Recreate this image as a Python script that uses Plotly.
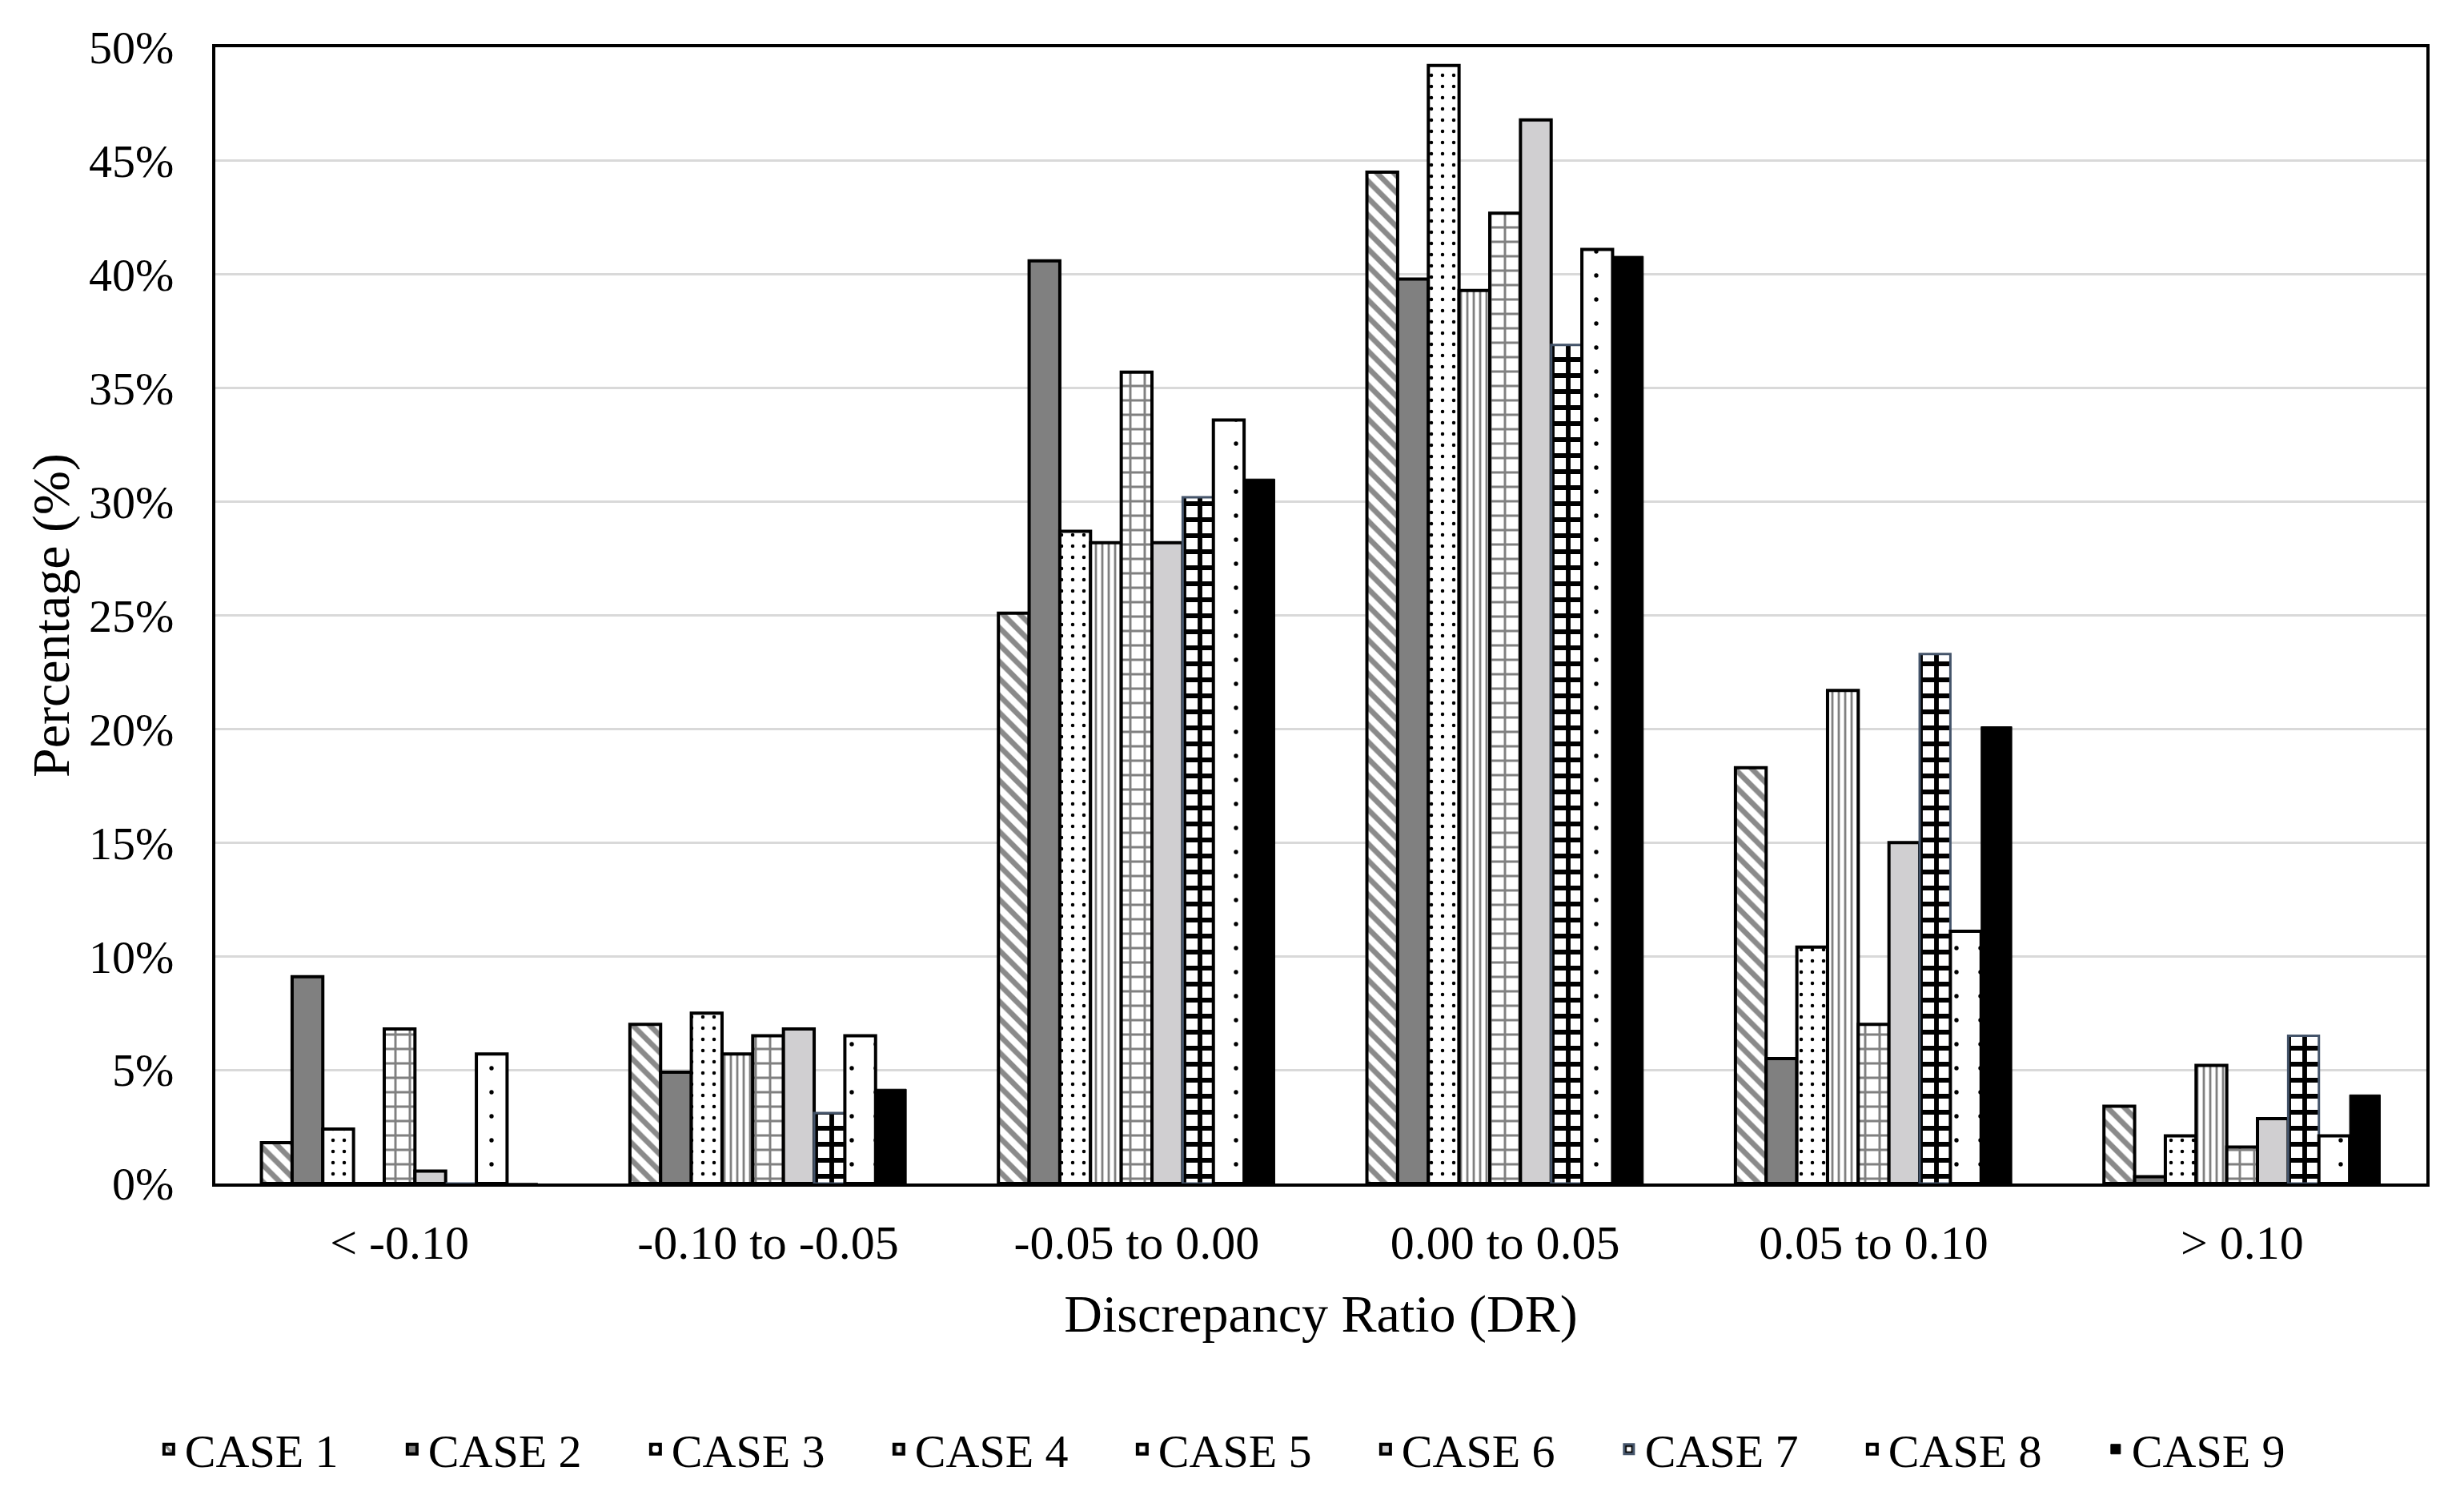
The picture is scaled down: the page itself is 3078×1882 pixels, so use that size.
import plotly.graph_objects as go

categories = ["< -0.10", "-0.10 to -0.05", "-0.05 to 0.00", "0.00 to 0.05", "0.05 to 0.10", "> 0.10"]
case_names = ["CASE 1", "CASE 2", "CASE 3", "CASE 4", "CASE 5", "CASE 6", "CASE 7", "CASE 8", "CASE 9"]

case1 = [1.8, 7.0, 25.1, 44.5, 18.3, 3.4]
case2 = [9.1, 4.9, 40.6, 39.8, 5.5, 0.3]
case3 = [2.4, 7.5, 28.7, 49.2, 10.4, 2.1]
case4 = [0.0, 5.7, 28.2, 39.3, 21.7, 5.2]
case5 = [6.8, 6.5, 35.7, 42.7, 7.0, 1.6]
case6 = [0.55, 6.8, 28.2, 46.8, 15.0, 2.85]
case7 = [0.0, 3.1, 30.2, 36.9, 23.3, 6.5]
case8 = [5.7, 6.5, 33.6, 41.1, 11.1, 2.1]
case9 = [0.0, 4.15, 31.0, 40.8, 20.1, 3.9]

y_tick_values = [0, 5, 10, 15, 20, 25, 30, 35, 40, 45, 50]
y_tick_labels = ["0%", "5%", "10%", "15%", "20%", "25%", "30%", "35%", "40%", "45%", "50%"]

series = [case1, case2, case3, case4, case5, case6, case7, case8, case9]

FONT = "Liberation Serif"

styles = [
    dict(color="white", pattern=dict(shape="\\", fgcolor="#8a8a8a", bgcolor="white", size=15, solidity=0.45, fillmode="replace"), line=dict(color="black", width=4)),
    dict(color="#808080", line=dict(color="black", width=4)),
    dict(color="white", pattern=dict(shape=".", fgcolor="black", bgcolor="white", size=14, solidity=0.08, fillmode="replace"), line=dict(color="black", width=4)),
    dict(color="white", pattern=dict(shape="|", fgcolor="#808080", bgcolor="white", size=8, solidity=0.35, fillmode="replace"), line=dict(color="black", width=4)),
    dict(color="white", pattern=dict(shape="+", fgcolor="#808080", bgcolor="white", size=18, solidity=0.3, fillmode="replace"), line=dict(color="black", width=4)),
    dict(color="#d0cfd1", line=dict(color="black", width=4)),
    dict(color="white", pattern=dict(shape="+", fgcolor="black", bgcolor="white", size=20, solidity=0.5, fillmode="replace"), line=dict(color="#44546A", width=3)),
    dict(color="white", pattern=dict(shape=".", fgcolor="black", bgcolor="white", size=30, solidity=0.025, fillmode="replace"), line=dict(color="black", width=4)),
    dict(color="black", line=dict(color="black", width=1)),
]

fig = go.Figure()
for name, vals, st in zip(case_names, series, styles):
    fig.add_trace(go.Bar(x=categories, y=vals, name=name, marker=st))

fig.update_layout(
    width=3078, height=1882,
    paper_bgcolor="white", plot_bgcolor="white",
    barmode="group", bargap=0.25, bargroupgap=0,
    margin=dict(l=269, r=47, t=59, b=404),
    font=dict(family=FONT, size=58, color="black"),
    showlegend=True,
    legend=dict(orientation="h", x=0.467, xanchor="center", y=-0.234, yanchor="middle",
                font=dict(family=FONT, size=58, color="black"),
                entrywidth=259, entrywidthmode="pixels", itemwidth=30,
                traceorder="normal"),
)
fig.update_yaxes(range=[0, 50], tickvals=y_tick_values, ticktext=y_tick_labels,
                 showgrid=True, gridcolor="#d9d9d9", gridwidth=3,
                 showline=True, linecolor="black", linewidth=4, mirror=True,
                 ticks="", ticklabelstandoff=36, zeroline=False, automargin=True,
                 tickfont=dict(family=FONT, size=58, color="black"),
                 title=dict(text="Percentage (%)", font=dict(family=FONT, size=66, color="black"), standoff=4))
fig.update_xaxes(showline=True, linecolor="black", linewidth=4, mirror=True,
                 ticks="", ticklabelstandoff=18, automargin=True,
                 tickfont=dict(family=FONT, size=60, color="black"),
                 title=dict(text="Discrepancy Ratio (DR)", font=dict(family=FONT, size=66, color="black"), standoff=34))

fig.write_html("out.html", post_script="document.body.style.margin='0';",
               config={"displayModeBar": False})
